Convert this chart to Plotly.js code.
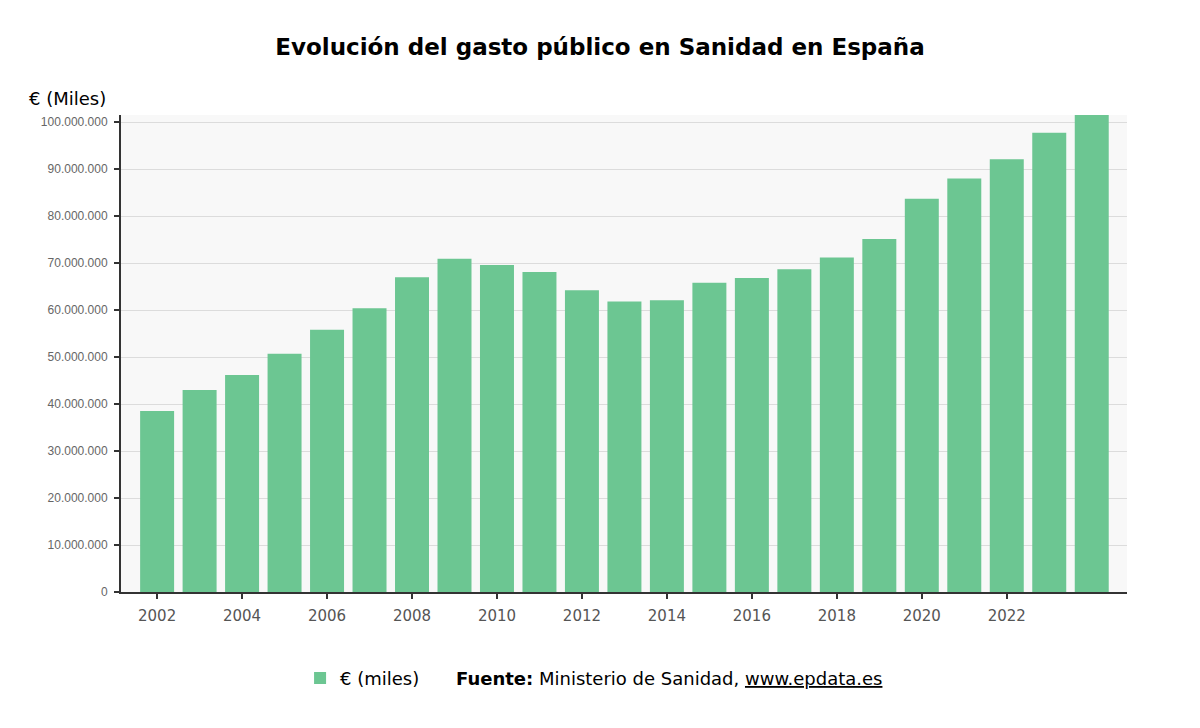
<!DOCTYPE html>
<html>
<head>
<meta charset="utf-8">
<script src="https://cdn.plot.ly/plotly-3.0.1.min.js"></script>
<style>
  body { margin: 0; background: #fff; }
  #grafico { width: 1200px; height: 728px; }
</style>
</head>
<body>
<div id="grafico"></div>
<script>
// Gasto público en sanidad, miles de euros
var anios = [2002, 2003, 2004, 2005, 2006, 2007, 2008, 2009, 2010, 2011, 2012, 2013,
             2014, 2015, 2016, 2017, 2018, 2019, 2020, 2021, 2022, 2023, 2024];
var gasto = [38500000, 43000000, 46200000, 50700000, 55800000, 60400000, 67000000,
             70900000, 69600000, 68100000, 64200000, 61800000, 62100000, 65800000,
             66800000, 68700000, 71200000, 75100000, 83700000, 88000000, 92100000,
             97700000, 101500000];
var etiquetasX = [2002, 2004, 2006, 2008, 2010, 2012, 2014, 2016, 2018, 2020, 2022];
var marcasY = [0, 10000000, 20000000, 30000000, 40000000, 50000000,
               60000000, 70000000, 80000000, 90000000, 100000000];

var verde = '#6cc692';
var fuenteTexto = '"DejaVu Sans", Verdana, sans-serif';

var trace = {
  x: anios,
  y: gasto,
  type: 'bar',
  name: '€ (miles)',
  marker: { color: verde },
  hovertemplate: '%{x}: %{y:,d}<extra></extra>'
};

var layout = {
  width: 1200,
  height: 728,
  paper_bgcolor: '#ffffff',
  plot_bgcolor: '#f8f8f8',
  separators: ',.',
  margin: { l: 121, r: 73, t: 115, b: 136 },
  bargap: 0.2,
  title: {
    text: '<b>Evolución del gasto público en Sanidad en España</b>',
    font: { family: fuenteTexto, size: 23, color: '#000' },
    x: 0.5, xanchor: 'center',
    y: 0.935, yanchor: 'middle'
  },
  xaxis: {
    range: [2001.15, 2024.83],
    tickvals: etiquetasX,
    ticks: 'outside', ticklen: 5, tickwidth: 2, tickcolor: '#333',
    ticklabelstandoff: 4,
    showline: true, linecolor: '#333', linewidth: 2,
    showgrid: false, zeroline: false,
    tickfont: { family: fuenteTexto, size: 15, color: '#555' },
    fixedrange: true
  },
  yaxis: {
    range: [0, 101500000],
    tickvals: marcasY,
    tickformat: ',d',
    ticks: 'outside', ticklen: 5, tickwidth: 2, tickcolor: '#333',
    ticklabelstandoff: 4,
    showline: true, linecolor: '#333', linewidth: 2,
    gridcolor: '#dcdcdc', gridwidth: 1,
    zeroline: false,
    tickfont: { family: '"Liberation Sans", Arial, sans-serif', size: 12, color: '#666' },
    fixedrange: true
  },
  showlegend: true,
  legend: {
    orientation: 'h',
    x: 0.178, xanchor: 'left',
    y: -0.181, yanchor: 'middle',
    font: { family: fuenteTexto, size: 18, color: '#000' },
    bgcolor: 'rgba(0,0,0,0)'
  },
  annotations: [
    {
      text: '€ (Miles)',
      xref: 'paper', yref: 'paper',
      x: -0.093, y: 1.0, xanchor: 'left', yanchor: 'bottom',
      yshift: 4,
      showarrow: false,
      font: { family: fuenteTexto, size: 18, color: '#000' }
    },
    {
      text: '<b>Fuente:</b> Ministerio de Sanidad, <u>www.epdata.es</u>',
      xref: 'paper', yref: 'paper',
      x: 0.331, y: -0.181, xanchor: 'left', yanchor: 'middle',
      showarrow: false,
      font: { family: fuenteTexto, size: 18, color: '#000' }
    }
  ]
};

Plotly.newPlot('grafico', [trace], layout, { displayModeBar: false });
</script>
</body>
</html>
